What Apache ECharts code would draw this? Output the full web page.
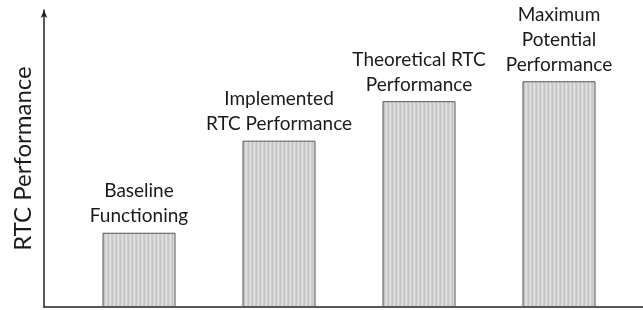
<!DOCTYPE html>
<html>
<head>
<meta charset="utf-8">
<script src="https://cdn.jsdelivr.net/npm/echarts@6/dist/echarts.min.js"></script>
<style>
html,body{margin:0;padding:0;background:#fff;}
#chart{width:643px;height:310px;}
</style>
</head>
<body>
<div id="chart"></div>
<script>
let categories = ['Baseline\nFunctioning', 'Implemented\nRTC Performance', 'Theoretical RTC\nPerformance', 'Maximum\nPotential\nPerformance'];
let values = [25, 56, 69.3, 76];
let axisName = 'RTC Performance';

// vertical stripe pattern for the bars
function stripe_pattern(){
    let c = document.createElement('canvas');
    c.width = 8;
    c.height = 4;
    let ctx = c.getContext('2d');
    let cols = ['#c6c6c6','#d4d4d4','#e2e2e2','#cfcfcf','#c2c2c2','#d8d8d8','#e4e4e4','#cccccc'];
    for(let i=0;i<cols.length;i++){
        ctx.fillStyle = cols[i];
        ctx.fillRect(i,0,1,4);
    }
    return c;
}

let myChart = echarts.init(document.getElementById('chart'));
let font = 'Lato';
let option = {
    animation:false,
    grid:[
        {left:44, right:0, top:10, bottom:3},
        {left:69, right:14, top:10, bottom:3}
    ],
    xAxis:[
        {gridIndex:0, type:'value', min:0, max:1,
         axisLine:{show:true, onZero:false, lineStyle:{color:'#222', width:1.5}},
         axisTick:{show:false}, axisLabel:{show:false}, splitLine:{show:false}},
        {gridIndex:1, type:'category', data:categories,
         axisLine:{show:false}, axisTick:{show:false}, axisLabel:{show:false}}
    ],
    yAxis:[
        {gridIndex:0, type:'value', min:0, max:100,
         name:axisName, nameLocation:'middle', nameGap:9,
         nameTextStyle:{fontFamily:font, fontSize:24, color:'#1a1a1a'},
         axisLine:{show:true, lineStyle:{color:'#222', width:1.5}, symbol:['none','arrow'], symbolSize:[5,8]},
         axisTick:{show:false}, axisLabel:{show:false}, splitLine:{show:false}},
        {gridIndex:1, type:'value', min:0, max:100, show:false}
    ],
    series:[{
        type:'bar',
        xAxisIndex:1,
        yAxisIndex:1,
        data:values,
        barWidth:73,
        itemStyle:{
            color:{image:stripe_pattern(), repeat:'repeat'},
            borderColor:'#555',
            borderWidth:1
        },
        label:{
            show:true,
            position:'top',
            distance:4,
            formatter:function(p){ return p.name; },
            fontFamily:font,
            fontSize:19,
            lineHeight:25,
            color:'#1a1a1a'
        }
    }]
};
myChart.setOption(option);
</script>
</body>
</html>
